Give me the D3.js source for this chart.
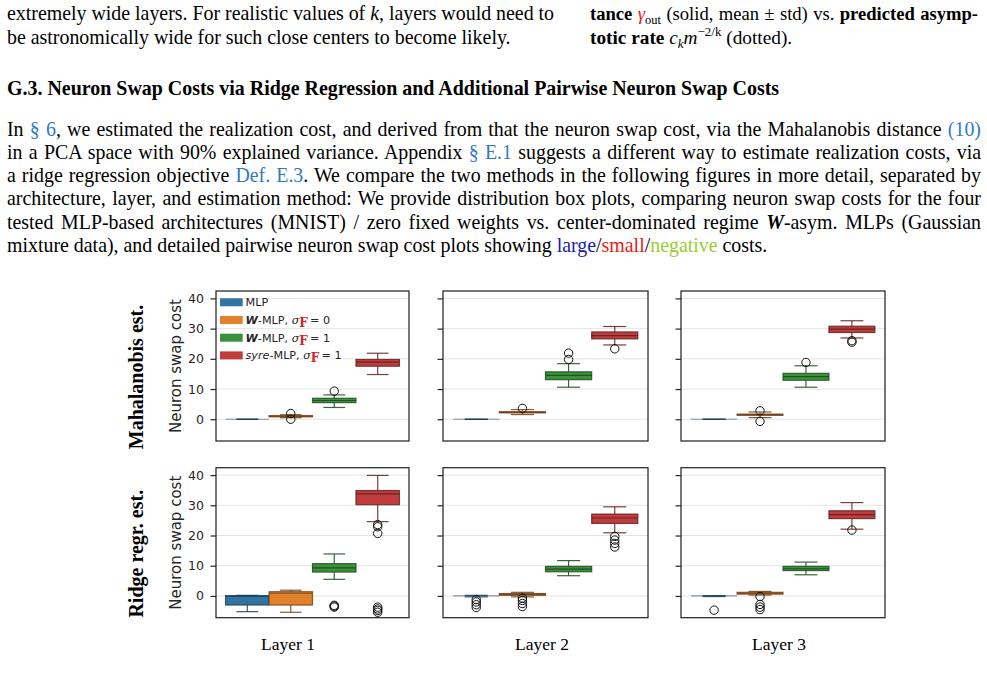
<!DOCTYPE html>
<html>
<head>
<meta charset="utf-8">
<script src="https://cdn.jsdelivr.net/npm/d3@7"></script>
<style>
body { margin: 0; background: #fff; }
svg { display: block; }
text { white-space: pre; }
</style>
</head>
<body>
<svg id="page" width="987" height="673"></svg>
<script>
// Data
var layers      = ["Layer 1", "Layer 2", "Layer 3"];
var estimators  = ["Mahalanobis est.", "Ridge regr. est."];
var models      = ["MLP", "W-MLP s0", "W-MLP s1", "syre-MLP s1"];
var colors      = ["#3274a1", "#e1812c", "#3a923a", "#c03d3e"];
var yTicks      = [0, 10, 20, 30, 40];

// [whisker low, q1, median, q3, whisker high], per layer, per model
var mahaBoxes = [
    [[0, 0, 0, 0, 0], [0.5, 0.8, 1.0, 1.2, 1.5], [3.9, 5.5, 6.2, 6.95, 8.05], [14.8, 17.55, 18.9, 19.8, 21.85]],
    [[0, 0, 0, 0, 0], [1.55, 2.1, 2.3, 2.5, 3.2], [10.6, 13.1, 14.5, 15.7, 18.4], [24.6, 26.6, 27.7, 28.9, 30.7]],
    [[0, 0, 0, 0, 0], [0.55, 1.3, 1.5, 1.7, 2.4], [10.6, 12.9, 14.1, 15.2, 17.7], [26.9, 28.7, 29.8, 30.8, 32.6]]
];
var mahaFliers = [
    [[], [1.9, 0.0], [9.3], []],
    [[], [3.6], [19.8, 21.9], [23.3]],
    [[], [2.8, -0.7], [18.8], [26.0, 25.5]]
];
var ridgeBoxes = [
    [[-5.2, -3.0, -0.1, 0.1, 0.2], [-5.4, -3.0, 0.9, 1.4, 1.9], [5.5, 7.9, 9.3, 10.7, 13.9], [24.6, 30.2, 33.8, 34.9, 39.9]],
    [[-0.3, 0, 0, 0, 0.2], [-0.3, 0.2, 0.5, 0.8, 1.2], [6.7, 8.0, 8.9, 9.8, 11.7], [20.9, 24.0, 25.8, 27.1, 29.5]],
    [[-0.2, 0, 0, 0, 0.1], [0.3, 0.6, 0.9, 1.2, 1.5], [7.0, 8.4, 9.0, 9.8, 11.2], [22.1, 25.6, 26.9, 28.2, 30.9]]
];
var ridgeFliers = [
    [[], [], [-3.1, -3.4, -3.7], [23.6, 22.9, 20.7, -3.7, -4.3, -4.8, -5.4]],
    [[-1.2, -2.0, -2.9, -3.8], [-0.7, -1.5, -2.5, -3.5], [], [19.7, 18.5, 17.4, 16.2]],
    [[-4.7], [-0.2, -2.8, -3.7, -4.5], [], [21.8]]
];

var serif = "'Liberation Serif', 'Times New Roman', serif";
var sans  = "'DejaVu Sans', sans-serif";
var dserif = "'DejaVu Serif', serif";
var link  = "#2f7bbf";

var page = d3.select("#page");

// Text helper: runs of styled tspans, optional justification to a width
function addLine(parent, x, y, runs, width, size, family) {
    var t = parent.append("text")
        .attr("x", x).attr("y", y)
        .style("font-family", family || serif)
        .style("font-size", size + "px")
        .attr("fill", "#000");
    var cur = 0;
    runs.forEach(function(r) {
        if (typeof r === "string") r = { t: r };
        var sp = t.append("tspan").text(r.t);
        var sh = r.shift || 0;
        if (sh !== cur) { sp.attr("dy", sh - cur); cur = sh; }
        if (r.b) sp.style("font-weight", "bold");
        if (r.i) sp.style("font-style", "italic");
        if (r.c) sp.attr("fill", r.c);
        if (r.sz) sp.style("font-size", r.sz + "px");
        if (r.f) sp.style("font-family", r.f);
    });
    if (width) {
        var len = t.node().getComputedTextLength();
        var n = (t.text().match(/ /g) || []).length;
        if (n) t.style("word-spacing", ((width - len) / n) + "px");
    }
    return t;
}

// Page text
var fs = 19.9;
addLine(page, 7, 20, ["extremely wide layers. For realistic values of ", { t: "k", i: true }, ", layers would need to"], 547, fs);
addLine(page, 7, 43.5, ["be astronomically wide for such close centers to become likely."], null, fs);
addLine(page, 590, 20, [{ t: "tance", b: true }, " ", { t: "\u03b3", i: true, c: "#e3211c" }, { t: "out", sz: 12.5, shift: 4 }, { t: " (solid, mean \u00b1 std) vs. " }, { t: "predicted asymp-", b: true }], 388, 18.6);
addLine(page, 590, 43.5, [{ t: "totic rate", b: true }, " ", { t: "c", i: true }, { t: "k", i: true, sz: 13, shift: 4 }, { t: "m", i: true }, { t: "\u22122/k", sz: 13, shift: -8 }, { t: " (dotted)." }], null, 19.3);

addLine(page, 7, 94.5, [{ t: "G.3. Neuron Swap Costs via Ridge Regression and Additional Pairwise Neuron Swap Costs", b: true }], null, 19.95);

var para = [
    ["In ", { t: "\u00a7 6", c: link }, ", we estimated the realization cost, and derived from that the neuron swap cost, via the Mahalanobis distance ", { t: "(10)", c: link }],
    ["in a PCA space with 90% explained variance. Appendix ", { t: "\u00a7 E.1", c: link }, " suggests a different way to estimate realization costs, via"],
    ["a ridge regression objective ", { t: "Def. E.3", c: link }, ". We compare the two methods in the following figures in more detail, separated by"],
    ["architecture, layer, and estimation method: We provide distribution box plots, comparing neuron swap costs for the four"],
    ["tested MLP-based architectures (MNIST) / zero fixed weights vs. center-dominated regime ", { t: "W", b: true, i: true }, "-asym. MLPs (Gaussian"],
    ["mixture data), and detailed pairwise neuron swap cost plots showing ", { t: "large", c: "#1a1aa8" }, "/", { t: "small", c: "#e8201c" }, "/", { t: "negative", c: "#9acd32" }, " costs."]
];
para.forEach(function(runs, i) {
    addLine(page, 7, 135.5 + i * 23.3, runs, i < para.length - 1 ? 974 : null, fs);
});

// Chart layout
var panelX = [216, 443, 681];
var panelW = [193, 205, 204];
var rowY   = [291, 467.7];
var panelH = 150;

var y = d3.scaleLinear().domain([-7.2, 42.45]).range([panelH, 0]);

estimators.forEach(function(est, ri) {
    var boxes  = ri === 0 ? mahaBoxes : ridgeBoxes;
    var fliers = ri === 0 ? mahaFliers : ridgeFliers;

    // row label
    page.append("text")
        .attr("transform", "translate(143," + (rowY[ri] + panelH / 2 + 11) + ") rotate(-90)")
        .attr("text-anchor", "middle")
        .style("font-family", serif).style("font-size", "20px").style("font-weight", "bold")
        .text(est);
    // y axis label
    page.append("text")
        .attr("transform", "translate(180.5," + (rowY[ri] + panelH / 2) + ") rotate(-90)")
        .attr("text-anchor", "middle")
        .style("font-family", sans).style("font-size", "15px").attr("fill", "#262626")
        .text("Neuron swap cost");

    layers.forEach(function(layer, li) {
        var w = panelW[li];
        var g = page.append("g").attr("transform", "translate(" + panelX[li] + "," + rowY[ri] + ")");
        var x = d3.scaleBand().domain(models).range([0, w]).paddingInner(0).paddingOuter(0.22);

        // grid
        g.selectAll(".grid").data(yTicks).enter().append("line")
            .attr("x1", 0).attr("x2", w)
            .attr("y1", function(d) { return y(d); }).attr("y2", function(d) { return y(d); })
            .attr("stroke", "#e4e4e4").attr("stroke-width", 1);

        // axis
        var ax = d3.axisLeft(y).tickValues(yTicks).tickSize(5.5).tickPadding(6.5);
        if (li > 0) ax.tickFormat("");
        var axg = g.append("g").call(ax);
        axg.select(".domain").remove();
        axg.selectAll("line").attr("stroke", "#262626").attr("stroke-width", 1.2);
        axg.selectAll("text").style("font-family", sans).style("font-size", "12.5px").attr("fill", "#262626");

        // boxes
        models.forEach(function(m, k) {
            var s = boxes[li][k];
            var bw = x.bandwidth();
            var cx = x(m) + bw / 2;
            var dark = d3.color(colors[k]).darker(2).formatHex();
            var bg = g.append("g");
            var lineAttr = function(sel) {
                return sel.attr("stroke", dark).attr("stroke-width", 1.2).attr("stroke-opacity", 0.85);
            };
            var flat = y(s[1]) - y(s[3]) < 1;
            lineAttr(bg.append("line").attr("x1", cx).attr("x2", cx).attr("y1", y(s[0])).attr("y2", y(s[1])));
            lineAttr(bg.append("line").attr("x1", cx).attr("x2", cx).attr("y1", y(s[3])).attr("y2", y(s[4])));
            lineAttr(bg.append("line").attr("x1", cx - bw / 4).attr("x2", cx + bw / 4).attr("y1", y(s[0])).attr("y2", y(s[0])));
            lineAttr(bg.append("line").attr("x1", cx - bw / 4).attr("x2", cx + bw / 4).attr("y1", y(s[4])).attr("y2", y(s[4])));
            bg.append("rect")
                .attr("x", x(m)).attr("width", bw)
                .attr("y", y(s[3])).attr("height", Math.max(0, y(s[1]) - y(s[3])))
                .attr("fill", colors[k])
                .attr("stroke", flat ? colors[k] : dark)
                .attr("stroke-width", flat ? 2 : 1.2).attr("stroke-opacity", 0.8);
            lineAttr(bg.append("line").attr("x1", x(m)).attr("x2", x(m) + bw).attr("y1", y(s[2])).attr("y2", y(s[2])))
                .attr("stroke-opacity", flat ? 0.5 : 0.85);
            bg.selectAll("circle").data(fliers[li][k]).enter().append("circle")
                .attr("cx", cx).attr("cy", function(d) { return y(d); })
                .attr("r", 4.2)
                .attr("fill", "none").attr("stroke", "#111").attr("stroke-width", 1);
        });

        // frame
        g.append("rect").attr("width", w).attr("height", panelH)
            .attr("fill", "none").attr("stroke", "#262626").attr("stroke-width", 1.25);

        // legend
        if (ri === 0 && li === 0) {
            var legendRuns = [
                ["MLP"],
                [{ t: "W", b: true, i: true }, "-MLP, ", { t: "\u03c3", i: true, f: dserif }, { t: "F", b: true, c: "#d42020", f: dserif, sz: 12, shift: 3 }, "\u2009= 0"],
                [{ t: "W", b: true, i: true }, "-MLP, ", { t: "\u03c3", i: true, f: dserif }, { t: "F", b: true, c: "#d42020", f: dserif, sz: 12, shift: 3 }, "\u2009= 1"],
                [{ t: "syre", i: true }, "-MLP, ", { t: "\u03c3", i: true, f: dserif }, { t: "F", b: true, c: "#d42020", f: dserif, sz: 12, shift: 3 }, "\u2009= 1"]
            ];
            var lg = g.append("g");
            models.forEach(function(m, k) {
                var cy = 11.3 + k * 17.7;
                lg.append("rect").attr("x", 4).attr("y", cy - 4).attr("width", 22.7).attr("height", 8)
                    .attr("fill", colors[k]);
                addLine(lg, 29.5, cy + 4, legendRuns[k], null, 11.2, sans).attr("fill", "#262626");
            });
        }
    });
});

// column labels
var layerCx = [288, 542, 779];
layers.forEach(function(l, i) {
    page.append("text").attr("x", layerCx[i]).attr("y", 650)
        .attr("text-anchor", "middle")
        .style("font-family", serif).style("font-size", "17.5px")
        .text(l);
});
</script>
</body>
</html>
